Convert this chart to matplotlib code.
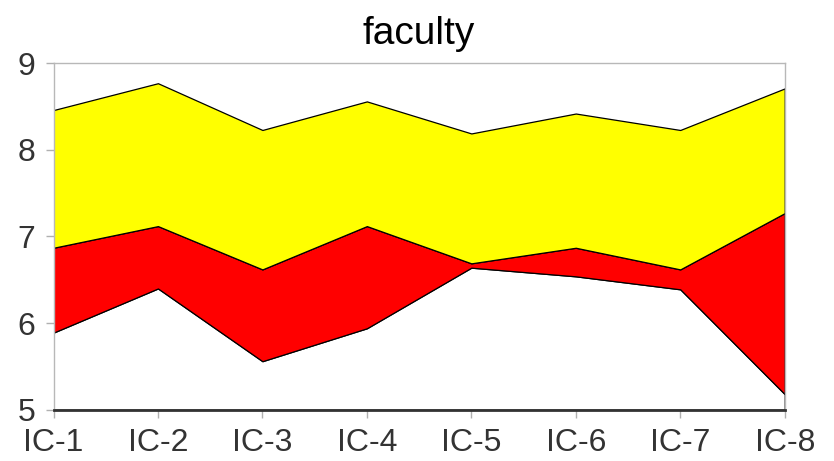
import matplotlib.pyplot as plt

plt.rcParams['font.family'] = ['Liberation Sans', 'DejaVu Sans']

categories = ['IC-1', 'IC-2', 'IC-3', 'IC-4', 'IC-5', 'IC-6', 'IC-7', 'IC-8']
# level of each boundary line
lower = [5.89, 6.40, 5.56, 5.94, 6.64, 6.54, 6.39, 5.18]
middle = [6.87, 7.12, 6.62, 7.12, 6.69, 6.87, 6.62, 7.27]
upper = [8.46, 8.77, 8.23, 8.56, 8.19, 8.42, 8.23, 8.71]
y_min, y_max = 5, 9
y_ticks = [5, 6, 7, 8, 9]

fig = plt.figure(figsize=(8.34, 4.61), dpi=100)
ax = fig.add_axes([53.5 / 834, (461 - 409.7) / 461,
                   (784.7 - 53.5) / 834, (409.7 - 63.3) / 461])

x = list(range(len(categories)))
base = [y_min] * len(x)

ax.fill_between(x, base, lower, facecolor='white', edgecolor='black', linewidth=0.9)
ax.fill_between(x, lower, middle, facecolor='#ff0000', edgecolor='black', linewidth=0.9)
ax.fill_between(x, middle, upper, facecolor='#ffff00', edgecolor='black', linewidth=0.9)

ax.set_xlim(0, len(x) - 1)
ax.set_ylim(y_min, y_max)
ax.set_xticks(x)
ax.set_xticklabels(categories)
ax.set_yticks(y_ticks)

ax.tick_params(axis='both', labelsize=23, labelcolor='#333333', color='#b0b0b0',
               length=6, width=1)
ax.tick_params(axis='x', pad=7)
ax.tick_params(axis='y', pad=7)

for side in ['left', 'top', 'right']:
    ax.spines[side].set_color('#b8b8b8')
    ax.spines[side].set_linewidth(1)
ax.spines['bottom'].set_color('#333333')
ax.spines['bottom'].set_linewidth(2)

ax.set_title('faculty', fontsize=28, color='black', pad=14)

fig.savefig('out.png', dpi=100)
